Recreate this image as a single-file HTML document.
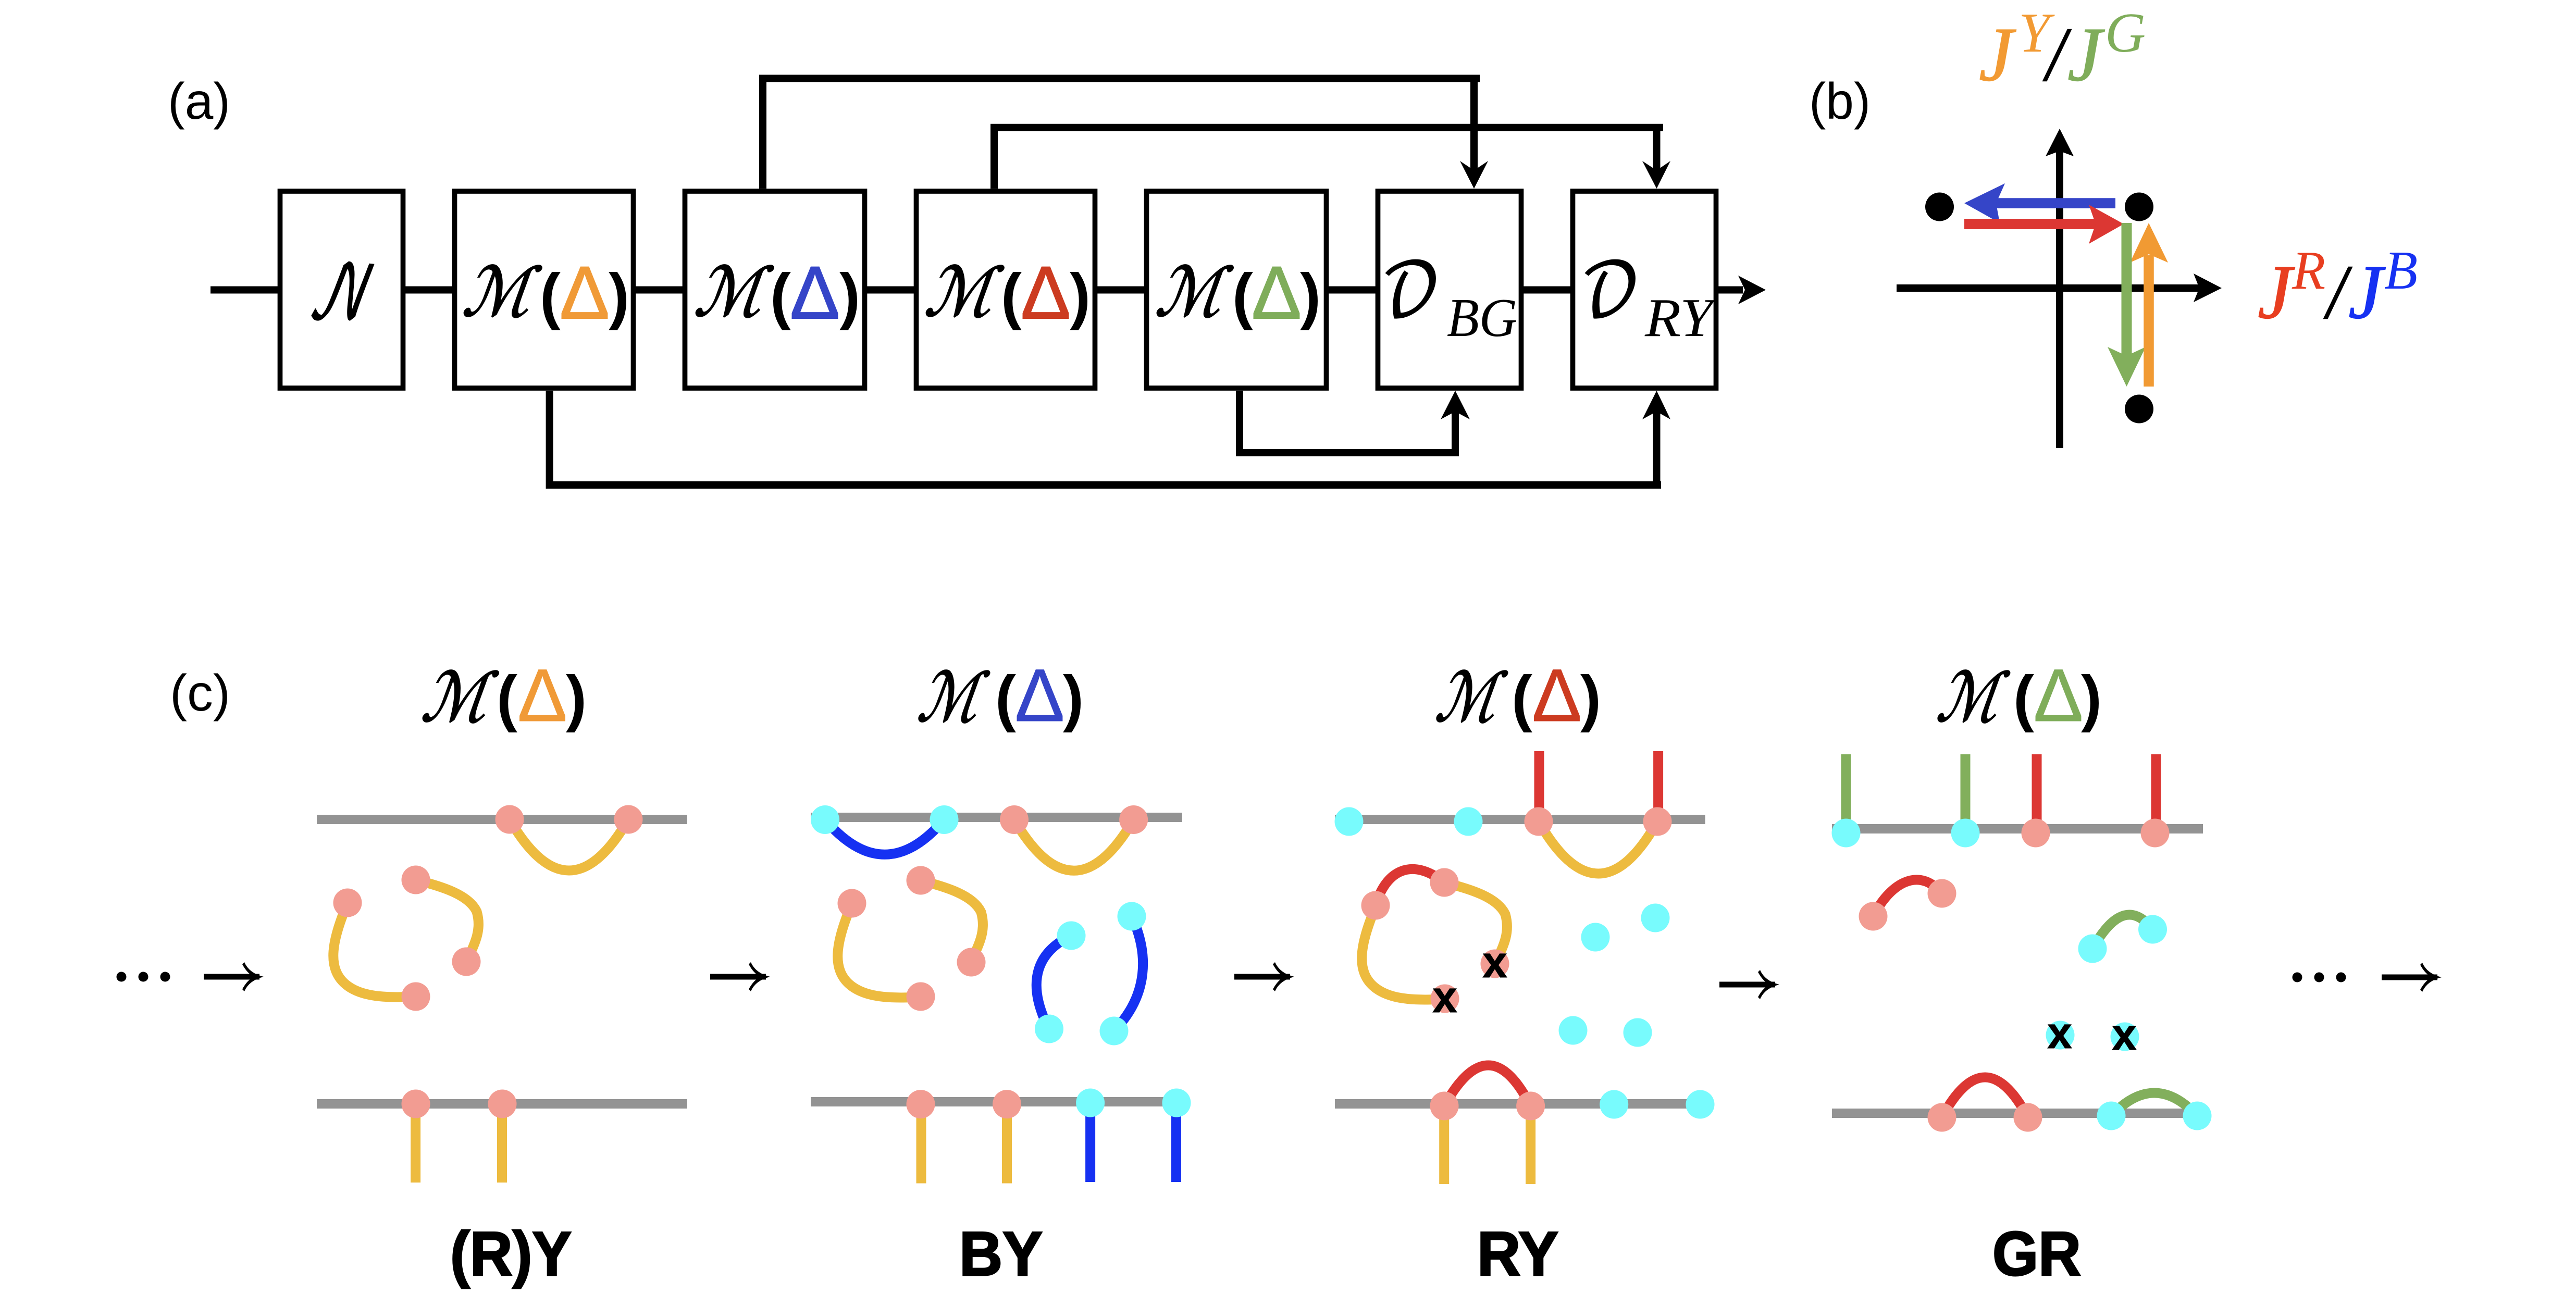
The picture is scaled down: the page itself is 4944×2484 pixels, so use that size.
<!DOCTYPE html>
<html><head><meta charset="utf-8"><style>
html,body{margin:0;padding:0;background:#fff}
svg{display:block}
text{white-space:pre}
.s{font-family:"Liberation Sans",sans-serif}
.sb{font-family:"Liberation Sans",sans-serif;font-weight:bold}
.lb{font-family:"Liberation Sans",sans-serif;font-weight:bold;stroke:#000;stroke-width:3}
.xx{font-family:"Liberation Sans",sans-serif;font-weight:bold;stroke:#000;stroke-width:1}
.ti{font-family:"Liberation Serif",serif;font-style:italic}
.jj{font-family:"Liberation Serif",serif;font-style:italic;stroke-width:1.5}
.m{font-family:"DejaVu Sans","Liberation Serif",serif;font-style:normal;stroke:#000;stroke-width:2.5}
.sc{font-family:"DejaVu Math TeX Gyre","DejaVu Sans","DejaVu Serif","Liberation Serif",serif;font-style:normal;stroke:#000;stroke-width:2}
.box{fill:#fff;stroke:#000;stroke-width:9.7}
.k{fill:none;stroke:#000;stroke-width:14}
.g{stroke:#939393;stroke-width:18;fill:none}
.y{stroke:#EDBB3F;stroke-width:19;fill:none}
.b{stroke:#1631F2;stroke-width:19;fill:none}
.r{stroke:#DC3733;stroke-width:19;fill:none}
.v{stroke:#82AF5C;stroke-width:19;fill:none}
.p{fill:#F29C92}
.c{fill:#78FBFD}
</style></head><body>
<svg width="4944" height="2484" viewBox="0 0 4944 2484" xmlns="http://www.w3.org/2000/svg">
<rect width="4944" height="2484" fill="#fff"/>

<!-- (a) connectors -->
<path class="k" d="M404 556.5H3345"/>
<polygon points="3389,556.5 3336,529 3349,556.5 3336,584"/>
<path class="k" d="M1464 362V150.5H2840M2829 150.5V330"/>
<polygon points="2829,362 2802,309 2829,327 2856,309"/>
<path class="k" d="M1908 362V244.7H3192M3179.5 244.7V330"/>
<polygon points="3179.5,362 3152,309 3179.5,327 3206,309"/>
<path class="k" d="M1054.6 750V931H3188M3179.5 931V780"/>
<polygon points="3179.5,750 3152,805 3179.5,790 3206,805"/>
<path class="k" d="M2379 750V869H2793V780"/>
<polygon points="2793,750 2765,805 2793,790 2821,805"/>

<!-- (a) boxes -->
<rect class="box" x="537.5" y="367" width="236" height="378"/>
<rect class="box" x="872.5" y="367" width="343" height="378"/>
<rect class="box" x="1314.5" y="367" width="345" height="378"/>
<rect class="box" x="1758.5" y="367" width="343" height="378"/>
<rect class="box" x="2200.5" y="367" width="345" height="378"/>
<rect class="box" x="2644.5" y="367" width="275" height="378"/>
<rect class="box" x="3018.5" y="367" width="275" height="378"/>

<!-- (a) labels -->
<text class="s" x="322" y="228" font-size="98" textLength="120" lengthAdjust="spacingAndGlyphs">(a)</text>
<text class="sc" transform="translate(589,610) skewX(-12)" font-size="140" textLength="115" lengthAdjust="spacingAndGlyphs">𝒩</text>

<text class="m" transform="translate(885,606) skewX(-20)" font-size="130" textLength="128" lengthAdjust="spacingAndGlyphs">ℳ</text>
<text class="sb" x="1056" y="609" font-size="120" text-anchor="middle">(</text>
<text class="s" x="1122" y="611" font-size="143" text-anchor="middle" fill="#F09A37" stroke="#F09A37" stroke-width="2">Δ</text>
<text class="sb" x="1188" y="609" font-size="120" text-anchor="middle">)</text>

<text class="m" transform="translate(1330,606) skewX(-20)" font-size="130" textLength="128" lengthAdjust="spacingAndGlyphs">ℳ</text>
<text class="sb" x="1498" y="609" font-size="120" text-anchor="middle">(</text>
<text class="s" x="1564" y="611" font-size="143" text-anchor="middle" fill="#3545C8" stroke="#3545C8" stroke-width="2">Δ</text>
<text class="sb" x="1631" y="609" font-size="120" text-anchor="middle">)</text>

<text class="m" transform="translate(1772,606) skewX(-20)" font-size="130" textLength="128" lengthAdjust="spacingAndGlyphs">ℳ</text>
<text class="sb" x="1941" y="609" font-size="120" text-anchor="middle">(</text>
<text class="s" x="2007" y="611" font-size="143" text-anchor="middle" fill="#CC3B20" stroke="#CC3B20" stroke-width="2">Δ</text>
<text class="sb" x="2073" y="609" font-size="120" text-anchor="middle">)</text>

<text class="m" transform="translate(2215,606) skewX(-20)" font-size="130" textLength="125" lengthAdjust="spacingAndGlyphs">ℳ</text>
<text class="sb" x="2385" y="609" font-size="120" text-anchor="middle">(</text>
<text class="s" x="2450" y="611" font-size="143" text-anchor="middle" fill="#7FAD5A" stroke="#7FAD5A" stroke-width="2">Δ</text>
<text class="sb" x="2515" y="609" font-size="120" text-anchor="middle">)</text>

<text class="sc" x="2650" y="606" font-size="140" textLength="115" lengthAdjust="spacingAndGlyphs">𝒟</text>
<text class="ti" x="2777" y="645" font-size="105" textLength="135" lengthAdjust="spacingAndGlyphs">BG</text>
<text class="sc" x="3033" y="606" font-size="140" textLength="115" lengthAdjust="spacingAndGlyphs">𝒟</text>
<text class="ti" x="3157" y="645" font-size="105" textLength="130" lengthAdjust="spacingAndGlyphs">RY</text>

<!-- (b) -->
<text class="s" x="3472" y="228" font-size="98" textLength="118" lengthAdjust="spacingAndGlyphs">(b)</text>
<path class="k" d="M3953 290V860M3640 553H4225"/>
<polygon points="3953,247 3926,300 3953,290 3980,300"/>
<polygon points="4264,553 4210,525 4221,553 4210,580"/>
<circle cx="3722.5" cy="397" r="27.5"/>
<circle cx="4105.5" cy="397" r="27.5"/>
<circle cx="4105.5" cy="785" r="27.5"/>
<path d="M4060 390H3825" stroke="#3545C8" stroke-width="19.5" fill="none"/>
<polygon points="3770,390 3848,352 3831,390 3838,428" fill="#3545C8"/>
<path d="M3770 430H4025" stroke="#DC3733" stroke-width="20" fill="none"/>
<polygon points="4076,430 4009,393 4022,430 4009,468" fill="#DC3733"/>
<polygon points="4124,428 4088,504 4124,488 4161,504" fill="#F19A33"/>
<path d="M4081.5 428V690" stroke="#82AF5C" stroke-width="20" fill="none"/>
<polygon points="4081.5,742 4045,666 4081.5,683 4118,666" fill="#82AF5C"/>
<path d="M4124 742V490" stroke="#F19A33" stroke-width="19.5" fill="none"/>

<text class="jj" x="3798" y="154" font-size="148" fill="#F29A33" stroke="#F29A33">J</text>
<text class="ti" x="3874" y="99" font-size="108" fill="#F29A33">Y</text>
<text class="jj" x="3927" y="154" font-size="148" textLength="38" lengthAdjust="spacingAndGlyphs" stroke="#000">/</text>
<text class="jj" x="3968" y="154" font-size="148" fill="#7FAD5A" stroke="#7FAD5A">J</text>
<text class="ti" x="4040" y="99" font-size="108" fill="#7FAD5A">G</text>

<text class="jj" x="4333" y="610" font-size="148" fill="#E83E20" stroke="#E83E20">J</text>
<text class="ti" x="4399" y="554" font-size="105" fill="#E83E20">R</text>
<text class="jj" x="4466" y="610" font-size="148" textLength="38" lengthAdjust="spacingAndGlyphs" stroke="#000">/</text>
<text class="jj" x="4507" y="610" font-size="148" fill="#1631F2" stroke="#1631F2">J</text>
<text class="ti" x="4576" y="554" font-size="105" fill="#1631F2">B</text>

<!-- (c) -->
<text class="s" x="326" y="1364" font-size="98" textLength="116" lengthAdjust="spacingAndGlyphs">(c)</text>

<!-- arrows & dots -->
<circle cx="233" cy="1875" r="9.5"/><circle cx="275" cy="1875" r="9.5"/><circle cx="317" cy="1875" r="9.5"/>
<g transform="translate(0,0)"><path d="M391 1875H498" stroke="#000" stroke-width="11" fill="none"/><path d="M469 1847Q478 1868 506 1875Q478 1882 469 1903L465 1899Q474 1882 487 1875Q474 1868 465 1851Z"/></g>
<g transform="translate(972,0)"><path d="M391 1875H498" stroke="#000" stroke-width="11" fill="none"/><path d="M469 1847Q478 1868 506 1875Q478 1882 469 1903L465 1899Q474 1882 487 1875Q474 1868 465 1851Z"/></g>
<g transform="translate(1978,0)"><path d="M391 1875H498" stroke="#000" stroke-width="11" fill="none"/><path d="M469 1847Q478 1868 506 1875Q478 1882 469 1903L465 1899Q474 1882 487 1875Q474 1868 465 1851Z"/></g>
<g transform="translate(2909,15)"><path d="M391 1875H498" stroke="#000" stroke-width="11" fill="none"/><path d="M469 1847Q478 1868 506 1875Q478 1882 469 1903L465 1899Q474 1882 487 1875Q474 1868 465 1851Z"/></g>
<circle cx="4409" cy="1876" r="9.5"/><circle cx="4451" cy="1876" r="9.5"/><circle cx="4493" cy="1876" r="9.5"/>
<g transform="translate(4180,1)"><path d="M391 1875H498" stroke="#000" stroke-width="11" fill="none"/><path d="M469 1847Q478 1868 506 1875Q478 1882 469 1903L465 1899Q474 1882 487 1875Q474 1868 465 1851Z"/></g>

<!-- headings -->
<text class="m" transform="translate(806,1384) skewX(-20)" font-size="130" textLength="124" lengthAdjust="spacingAndGlyphs">ℳ</text>
<text class="sb" x="973" y="1381" font-size="120" text-anchor="middle">(</text>
<text class="s" x="1041" y="1384" font-size="143" text-anchor="middle" fill="#F09A37" stroke="#F09A37" stroke-width="1">Δ</text>
<text class="sb" x="1106" y="1381" font-size="120" text-anchor="middle">)</text>

<text class="m" transform="translate(1758,1384) skewX(-20)" font-size="130" textLength="114" lengthAdjust="spacingAndGlyphs">ℳ</text>
<text class="sb" x="1930" y="1381" font-size="120" text-anchor="middle">(</text>
<text class="s" x="1995.5" y="1384" font-size="143" text-anchor="middle" fill="#3545C8" stroke="#3545C8" stroke-width="1">Δ</text>
<text class="sb" x="2060" y="1381" font-size="120" text-anchor="middle">)</text>

<text class="m" transform="translate(2752,1384) skewX(-20)" font-size="130" textLength="114" lengthAdjust="spacingAndGlyphs">ℳ</text>
<text class="sb" x="2921" y="1381" font-size="120" text-anchor="middle">(</text>
<text class="s" x="2988" y="1384" font-size="143" text-anchor="middle" fill="#CC3B20" stroke="#CC3B20" stroke-width="1">Δ</text>
<text class="sb" x="3053" y="1381" font-size="120" text-anchor="middle">)</text>

<text class="m" transform="translate(3714,1384) skewX(-20)" font-size="130" textLength="116" lengthAdjust="spacingAndGlyphs">ℳ</text>
<text class="sb" x="3884" y="1381" font-size="120" text-anchor="middle">(</text>
<text class="s" x="3950.5" y="1384" font-size="143" text-anchor="middle" fill="#7FAD5A" stroke="#7FAD5A" stroke-width="1">Δ</text>
<text class="sb" x="4014" y="1381" font-size="120" text-anchor="middle">)</text>

<!-- footers -->
<text class="lb" x="864" y="2448" font-size="120" textLength="233" lengthAdjust="spacingAndGlyphs">(R)Y</text>
<text class="lb" x="1841" y="2448" font-size="120" textLength="160" lengthAdjust="spacingAndGlyphs">BY</text>
<text class="lb" x="2835" y="2448" font-size="120" textLength="156" lengthAdjust="spacingAndGlyphs">RY</text>
<text class="lb" x="3824" y="2448" font-size="120" textLength="170" lengthAdjust="spacingAndGlyphs">GR</text>

<!-- panel 1 -->
<path class="g" d="M608 1573H1319M608 2119H1319"/>
<path class="y" d="M978 1573Q1092 1769 1206 1573"/>
<path class="y" d="M667 1733C640 1800 622 1860 668 1893C700 1916 750 1915 798 1913"/>
<path class="y" d="M798 1689C850 1702 900 1718 915 1750C925 1785 912 1810 895 1846"/>
<path class="y" d="M797.6 2119V2270M963.5 2119V2270"/>
<g class="p"><circle cx="978" cy="1573" r="27.5"/><circle cx="1206" cy="1573" r="27.5"/><circle cx="667" cy="1733" r="27.5"/><circle cx="798" cy="1689" r="27.5"/><circle cx="895" cy="1846" r="27.5"/><circle cx="798" cy="1913" r="27.5"/><circle cx="798" cy="2119" r="27.5"/><circle cx="964" cy="2119" r="27.5"/></g>

<!-- panel 2 -->
<path class="g" d="M1556 1569H2269M1556 2115H2269"/>
<path class="b" d="M1583.5 1573.5Q1698 1707 1812 1573.5"/>
<path class="y" d="M1946.5 1573.5Q2061 1769 2175.6 1573.5"/>
<g transform="translate(968,1)">
<path class="y" d="M667 1733C640 1800 622 1860 668 1893C700 1916 750 1915 798 1913"/>
<path class="y" d="M798 1689C850 1702 900 1718 915 1750C925 1785 912 1810 895 1846"/>
</g>
<path class="b" d="M2056 1796C1995 1825 1965 1880 2013 1975"/>
<path class="b" d="M2172 1759C2205 1830 2205 1910 2138 1979"/>
<path class="y" d="M1768 2119V2271.5M1932.5 2119V2271.5"/>
<path class="b" d="M2092.6 2117V2269M2257.5 2117V2269"/>
<g class="c"><circle cx="1583.5" cy="1573.5" r="27.5"/><circle cx="1812" cy="1573.5" r="27.5"/><circle cx="2056" cy="1796" r="27.5"/><circle cx="2013.5" cy="1975" r="27.5"/><circle cx="2172" cy="1759" r="27.5"/><circle cx="2138" cy="1979" r="27.5"/><circle cx="2092.6" cy="2117" r="27.5"/><circle cx="2258" cy="2117" r="27.5"/></g>
<g class="p"><circle cx="1946.5" cy="1573.5" r="27.5"/><circle cx="2175.6" cy="1573.5" r="27.5"/><circle cx="1635" cy="1734" r="27.5"/><circle cx="1767" cy="1690" r="27.5"/><circle cx="1864" cy="1847" r="27.5"/><circle cx="1767" cy="1913" r="27.5"/><circle cx="1767" cy="2119.6" r="27.5"/><circle cx="1932.5" cy="2119.6" r="27.5"/></g>

<!-- panel 3 -->
<path class="g" d="M2562 1573H3272.6M2562 2119H3272.6"/>
<path class="r" d="M2954 1442V1577M3182.6 1442V1577"/>
<path class="y" d="M2953 1577Q3068 1777 3181 1577"/>
<g transform="translate(1974,5)">
<path class="y" d="M667 1733C640 1800 622 1860 668 1893C700 1916 750 1915 798 1913"/>
<path class="y" d="M798 1689C850 1702 900 1718 915 1750C925 1785 912 1810 895 1846"/>
</g>
<path class="r" d="M2640 1738C2660 1670 2710 1645 2772 1694"/>
<path class="r" d="M2772 2123Q2858 1967 2937.6 2123"/>
<path class="y" d="M2771.7 2123V2273M2937.6 2123V2273"/>
<g class="c"><circle cx="2589" cy="1577" r="27.5"/><circle cx="2818" cy="1577" r="27.5"/><circle cx="3062" cy="1799" r="27.5"/><circle cx="3177" cy="1762" r="27.5"/><circle cx="3019" cy="1978" r="27.5"/><circle cx="3143" cy="1982" r="27.5"/><circle cx="3097.7" cy="2120" r="27.5"/><circle cx="3263" cy="2120" r="27.5"/></g>
<g class="p"><circle cx="2953" cy="1577" r="27.5"/><circle cx="3181" cy="1577" r="27.5"/><circle cx="2640" cy="1738" r="27.5"/><circle cx="2772" cy="1694" r="27.5"/><circle cx="2869" cy="1850" r="27.5"/><circle cx="2773" cy="1917" r="27.5"/><circle cx="2772" cy="2123" r="27.5"/><circle cx="2937.6" cy="2123" r="27.5"/></g>
<text class="xx" x="2869" y="1876" font-size="85" text-anchor="middle">x</text>
<text class="xx" x="2773" y="1943" font-size="85" text-anchor="middle">x</text>

<!-- panel 4 -->
<path class="g" d="M3516 1591H4228M3516 2137H4200"/>
<path class="v" d="M3543 1448V1599M3772 1448V1599"/>
<path class="r" d="M3909 1448V1599M4138 1448V1599"/>
<path class="r" d="M3595 1759C3625 1700 3680 1660 3727 1715"/>
<path class="v" d="M4016 1821C4045 1770 4085 1725 4131.5 1784"/>
<path class="r" d="M3727 2145Q3810 1991 3892 2145"/>
<path class="v" d="M4052 2142Q4135 2054 4217 2142"/>
<g class="c"><circle cx="3543" cy="1599" r="27.5"/><circle cx="3772" cy="1599" r="27.5"/><circle cx="4016" cy="1821" r="27.5"/><circle cx="4131.5" cy="1784" r="27.5"/><circle cx="3954" cy="1987" r="27.5"/><circle cx="4078" cy="1990" r="27.5"/><circle cx="4052" cy="2142" r="27.5"/><circle cx="4217" cy="2142" r="27.5"/></g>
<g class="p"><circle cx="3907" cy="1599" r="27.5"/><circle cx="4136" cy="1599" r="27.5"/><circle cx="3595" cy="1759" r="27.5"/><circle cx="3727" cy="1715" r="27.5"/><circle cx="3727" cy="2145" r="27.5"/><circle cx="3892" cy="2145" r="27.5"/></g>
<text class="xx" x="3953" y="2012" font-size="85" text-anchor="middle">x</text>
<text class="xx" x="4077" y="2015" font-size="85" text-anchor="middle">x</text>
</svg>
</body></html>
